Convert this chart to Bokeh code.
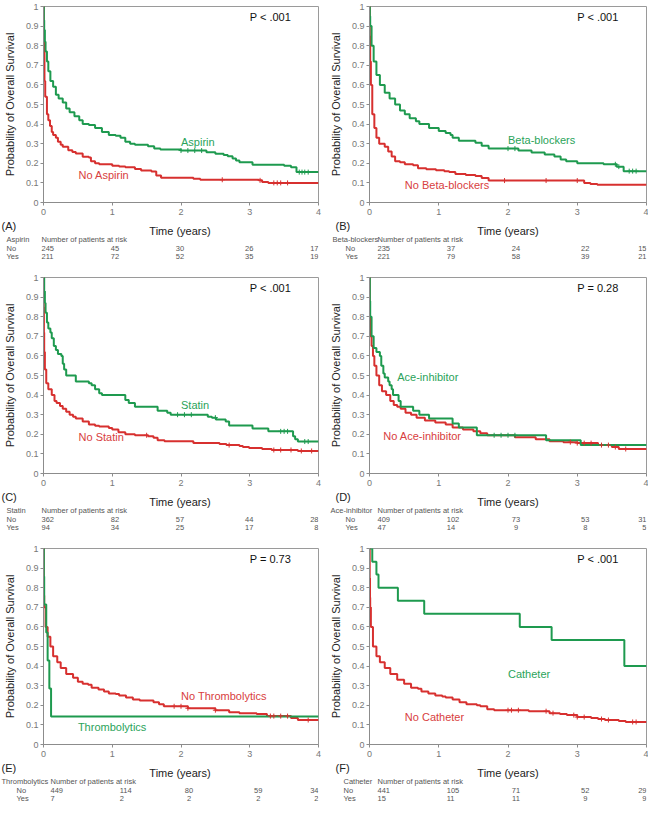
import numpy as np
from bokeh.plotting import figure
from bokeh.layouts import column, row
from bokeh.models import Range1d, FixedTicker, PrintfTickFormatter
from bokeh.core.properties import value
from bokeh.embed import file_html
from bokeh.resources import INLINE

# ---------------- data ----------------
YEARS = [0, 1, 2, 3, 4]
SURV_TICKS = [0, 0.1, 0.2, 0.3, 0.4, 0.5, 0.6, 0.7, 0.8, 0.9, 1.0]

# (A) Aspirin
A_yes_t = [0, 0.005, 0.01, 0.02, 0.03, 0.05, 0.07, 0.1, 0.14, 0.18, 0.22, 0.28, 0.33, 0.38, 0.45, 0.52, 0.57, 0.66, 0.75, 0.85,
           0.95, 1.05, 1.12, 1.19, 1.26, 1.33, 1.52, 1.61, 1.7, 2.0, 2.37, 2.5, 2.62, 2.68, 2.75, 2.8, 2.85, 3.04, 3.5, 3.6, 3.68, 4.0]
A_yes_s = [1, 0.93, 0.88, 0.82, 0.77, 0.72, 0.67, 0.62, 0.59, 0.55, 0.53, 0.51, 0.48, 0.46, 0.44, 0.42, 0.40, 0.395, 0.38, 0.36,
           0.345, 0.34, 0.33, 0.31, 0.30, 0.295, 0.287, 0.275, 0.27, 0.265, 0.257, 0.249, 0.242, 0.236, 0.224, 0.214, 0.205, 0.193, 0.187, 0.18, 0.155, 0.155]
A_no_t = [0, 0.003, 0.007, 0.014, 0.025, 0.05, 0.07, 0.095, 0.12, 0.14, 0.18, 0.21, 0.25, 0.28, 0.36, 0.42, 0.47, 0.57, 0.66, 0.69,
          0.75, 0.81, 1.0, 1.1, 1.19, 1.33, 1.42, 1.57, 1.64, 1.71, 2.18, 2.28, 3.13, 3.18, 3.27, 4.0]
A_no_s = [1, 0.9, 0.78, 0.62, 0.54, 0.45, 0.42, 0.39, 0.36, 0.345, 0.33, 0.31, 0.295, 0.285, 0.267, 0.258, 0.25, 0.234, 0.229, 0.21,
          0.2, 0.195, 0.187, 0.184, 0.18, 0.171, 0.163, 0.158, 0.138, 0.126, 0.121, 0.116, 0.113, 0.105, 0.10, 0.10]
A_yes_cens = [2.0, 2.1, 2.2, 2.3, 3.72, 3.76, 3.8, 3.85]
A_no_cens = [2.6, 3.15, 3.35, 3.4, 3.45, 3.55]
A_risk_no = [245, 45, 30, 26, 17]
A_risk_yes = [211, 72, 52, 35, 19]

# (B) Beta-blockers
B_yes_t = [0, 0.005, 0.01, 0.03, 0.06, 0.1, 0.15, 0.22, 0.29, 0.37, 0.44, 0.51, 0.58, 0.67, 0.72, 0.86, 1.0, 1.1, 1.17, 1.2,
           1.29, 1.53, 1.62, 1.72, 2.15, 2.34, 2.53, 2.67, 2.76, 2.84, 3.0, 3.38, 3.57, 3.67, 4.0]
B_yes_s = [1, 0.95, 0.9, 0.8, 0.72, 0.65, 0.6, 0.56, 0.53, 0.5, 0.47, 0.45, 0.43, 0.415, 0.40, 0.38, 0.365, 0.355, 0.345, 0.33,
           0.315, 0.305, 0.29, 0.275, 0.265, 0.255, 0.245, 0.235, 0.22, 0.21, 0.20, 0.195, 0.183, 0.16, 0.16]
B_no_t = [0, 0.004, 0.01, 0.02, 0.04, 0.07, 0.1, 0.14, 0.22, 0.27, 0.32, 0.37, 0.44, 0.51, 0.63, 0.7, 0.82, 0.96, 1.08, 1.15,
          1.24, 1.39, 1.53, 1.62, 1.72, 3.1, 3.19, 3.29, 4.0]
B_no_s = [1, 0.85, 0.72, 0.6, 0.45, 0.38, 0.33, 0.3, 0.285, 0.26, 0.235, 0.21, 0.205, 0.195, 0.19, 0.175, 0.17, 0.165, 0.16, 0.155,
          0.145, 0.14, 0.135, 0.125, 0.112, 0.1, 0.095, 0.09, 0.09]
B_yes_cens = [2.0, 2.1, 3.55, 3.6, 3.75, 3.8, 3.85]
B_no_cens = [1.95, 2.55, 3.0]
B_risk_no = [235, 37, 24, 22, 15]
B_risk_yes = [221, 79, 58, 39, 21]

# (C) Statin
C_yes_t = [0, 0.01, 0.02, 0.03, 0.05, 0.07, 0.1, 0.12, 0.15, 0.18, 0.21, 0.26, 0.28, 0.3, 0.33, 0.47, 0.66, 0.7, 0.75, 0.81,
           0.85, 1.19, 1.24, 1.33, 1.66, 1.8, 1.85, 2.39, 2.45, 2.51, 2.65, 2.7, 3.04, 3.27, 3.63, 3.66, 3.7, 4.0]
C_yes_s = [1, 0.93, 0.87, 0.82, 0.77, 0.74, 0.72, 0.69, 0.65, 0.63, 0.61, 0.6, 0.56, 0.53, 0.50, 0.47, 0.46, 0.45, 0.43, 0.41,
           0.40, 0.375, 0.36, 0.34, 0.32, 0.31, 0.30, 0.29, 0.285, 0.275, 0.265, 0.245, 0.23, 0.215, 0.19, 0.175, 0.163, 0.163]
C_no_t = [0, 0.003, 0.006, 0.01, 0.02, 0.04, 0.07, 0.12, 0.16, 0.19, 0.24, 0.28, 0.33, 0.38, 0.43, 0.47, 0.57, 0.66, 0.75, 0.81,
          0.95, 1.0, 1.09, 1.19, 1.33, 1.52, 1.6, 1.66, 1.76, 2.18, 2.56, 2.66, 2.85, 2.9, 2.99, 3.18, 3.32, 3.7, 4.0]
C_no_s = [1, 0.85, 0.72, 0.62, 0.53, 0.46, 0.43, 0.40, 0.37, 0.36, 0.345, 0.33, 0.315, 0.30, 0.29, 0.28, 0.265, 0.25, 0.243, 0.24,
          0.232, 0.225, 0.21, 0.20, 0.195, 0.19, 0.183, 0.17, 0.165, 0.155, 0.15, 0.145, 0.14, 0.135, 0.13, 0.125, 0.12, 0.115, 0.115]
C_yes_cens = [1.95, 2.05, 2.15, 2.5, 3.45, 3.5, 3.55, 3.8, 3.85]
C_no_cens = [1.5, 2.7, 3.35, 3.45, 3.6, 3.75, 3.9]
C_risk_no = [362, 82, 57, 44, 28]
C_risk_yes = [94, 34, 25, 17, 8]

# (D) Ace-inhibitor
D_yes_t = [0, 0.005, 0.01, 0.03, 0.06, 0.1, 0.15, 0.17, 0.2, 0.22, 0.27, 0.29, 0.32, 0.34, 0.42, 0.45, 0.63, 0.72, 0.86, 1.2,
           1.29, 1.55, 2.55, 3.05, 4.0]
D_yes_s = [1, 0.88, 0.8, 0.7, 0.64, 0.62, 0.6, 0.55, 0.51, 0.49, 0.47, 0.45, 0.43, 0.40, 0.37, 0.34, 0.32, 0.30, 0.28, 0.255,
           0.235, 0.195, 0.17, 0.145, 0.145]
D_no_t = [0, 0.003, 0.007, 0.01, 0.03, 0.05, 0.07, 0.1, 0.14, 0.18, 0.24, 0.3, 0.35, 0.4, 0.45, 0.52, 0.6, 0.68, 0.8, 0.95,
          1.1, 1.2, 1.35, 1.5, 1.6, 1.7, 2.1, 2.4, 2.6, 2.8, 3.0, 3.3, 3.5, 3.6, 4.0]
D_no_s = [1, 0.85, 0.75, 0.7, 0.65, 0.6, 0.55, 0.5, 0.45, 0.42, 0.4, 0.37, 0.35, 0.34, 0.33, 0.31, 0.30, 0.285, 0.27, 0.26,
          0.25, 0.235, 0.225, 0.215, 0.205, 0.195, 0.185, 0.175, 0.165, 0.16, 0.155, 0.145, 0.135, 0.125, 0.125]
D_yes_cens = [1.8, 1.9, 2.0, 2.1]
D_no_cens = [2.9, 3.0, 3.1, 3.2, 3.35, 3.45, 3.55, 3.7]
D_risk_no = [409, 102, 73, 53, 31]
D_risk_yes = [47, 14, 9, 8, 5]

# (E) Thrombolytics
E_yes_t = [0, 0.005, 0.01, 0.04, 0.06, 0.085, 0.11, 4.0]
E_yes_s = [1, 0.857, 0.714, 0.571, 0.429, 0.286, 0.143, 0.143]
E_no_t = [0, 0.003, 0.007, 0.01, 0.03, 0.06, 0.1, 0.14, 0.2, 0.25, 0.33, 0.43, 0.5, 0.57, 0.65, 0.7, 0.8, 0.88, 0.95, 1.05,
          1.1, 1.2, 1.3, 1.4, 1.6, 1.68, 1.75, 2.1, 2.5, 2.7, 2.85, 3.1, 3.25, 3.6, 3.7, 4.0]
E_no_s = [1, 0.85, 0.76, 0.7, 0.6, 0.55, 0.5, 0.45, 0.42, 0.39, 0.36, 0.34, 0.32, 0.31, 0.305, 0.29, 0.28, 0.27, 0.26, 0.258,
          0.25, 0.24, 0.23, 0.225, 0.215, 0.205, 0.195, 0.185, 0.175, 0.165, 0.16, 0.155, 0.145, 0.135, 0.125, 0.125]
E_yes_cens = []
E_no_cens = [1.9, 2.0, 2.1, 2.5, 3.3, 3.35, 3.45, 3.55, 3.85]
E_risk_no = [449, 114, 80, 59, 34]
E_risk_yes = [7, 2, 2, 2, 2]

# (F) Catheter
F_yes_t = [0, 0.04, 0.1, 0.13, 0.41, 0.79, 2.17, 2.63, 3.68, 4.0]
F_yes_s = [1, 0.933, 0.867, 0.8, 0.733, 0.667, 0.6, 0.533, 0.4, 0.4]
F_no_t = [0, 0.003, 0.007, 0.01, 0.02, 0.05, 0.1, 0.15, 0.22, 0.3, 0.4, 0.5, 0.6, 0.7, 0.75, 0.85, 0.95, 1.05, 1.1, 1.2,
          1.3, 1.4, 1.55, 1.6, 1.7, 1.8, 2.3, 2.6, 2.75, 2.85, 3.0, 3.2, 3.3, 3.4, 3.6, 3.7, 4.0]
F_no_s = [1, 0.85, 0.75, 0.7, 0.6, 0.5, 0.45, 0.42, 0.39, 0.36, 0.33, 0.31, 0.29, 0.285, 0.27, 0.26, 0.25, 0.245, 0.24, 0.23,
          0.215, 0.205, 0.2, 0.195, 0.18, 0.175, 0.17, 0.16, 0.155, 0.15, 0.14, 0.135, 0.13, 0.125, 0.12, 0.115, 0.115]
F_yes_cens = []
F_no_cens = [2.0, 2.05, 2.15, 2.55, 2.65, 2.95, 3.0, 3.1, 3.35, 3.45, 3.8, 3.85]
F_risk_no = [441, 105, 71, 52, 29]
F_risk_yes = [15, 11, 11, 9, 9]

# ---------------- styling ----------------
GREEN = "#1e9a4f"
RED = "#d7302f"
GREEN_TXT = "#2aa35a"
RED_TXT = "#d84040"
FONT = "Liberation Sans"
FRAME_W = 277

panels = [
    dict(tag="(A)", group="Aspirin", p="P < .001", yes_name="Aspirin", no_name="No Aspirin",
         yes_t=A_yes_t, yes_s=A_yes_s, no_t=A_no_t, no_s=A_no_s, yes_c=A_yes_cens, no_c=A_no_cens,
         rn=A_risk_no, ry=A_risk_yes, yes_pos=(2.0, 0.31), no_pos=(0.51, 0.14), grp_dx=-35, row_dx=-35, tab_dx=0),
    dict(tag="(B)", group="Beta-blockers", p="P < .001", yes_name="Beta-blockers", no_name="No Beta-blockers",
         yes_t=B_yes_t, yes_s=B_yes_s, no_t=B_no_t, no_s=B_no_s, yes_c=B_yes_cens, no_c=B_no_cens,
         rn=B_risk_no, ry=B_risk_yes, yes_pos=(2.0, 0.32), no_pos=(0.51, 0.088), grp_dx=-37, row_dx=-24, tab_dx=8),
    dict(tag="(C)", group="Statin", p="P < .001", yes_name="Statin", no_name="No Statin",
         yes_t=C_yes_t, yes_s=C_yes_s, no_t=C_no_t, no_s=C_no_s, yes_c=C_yes_cens, no_c=C_no_cens,
         rn=C_risk_no, ry=C_risk_yes, yes_pos=(2.0, 0.35), no_pos=(0.51, 0.185), grp_dx=-35, row_dx=-35, tab_dx=0),
    dict(tag="(D)", group="Ace-inhibitor", p="P = 0.28", yes_name="Ace-inhibitor", no_name="No Ace-inhibitor",
         yes_t=D_yes_t, yes_s=D_yes_s, no_t=D_no_t, no_s=D_no_s, yes_c=D_yes_cens, no_c=D_no_cens,
         rn=D_risk_no, ry=D_risk_yes, yes_pos=(0.40, 0.49), no_pos=(0.20, 0.19), grp_dx=-39, row_dx=-24, tab_dx=8),
    dict(tag="(E)", group="Thrombolytics", p="P = 0.73", yes_name="Thrombolytics", no_name="No Thrombolytics",
         yes_t=E_yes_t, yes_s=E_yes_s, no_t=E_no_t, no_s=E_no_s, yes_c=E_yes_cens, no_c=E_no_cens,
         rn=E_risk_no, ry=E_risk_yes, yes_pos=(0.5, 0.09), no_pos=(2.0, 0.245), grp_dx=-40, row_dx=-25, tab_dx=9),
    dict(tag="(F)", group="Catheter", p="P < .001", yes_name="Catheter", no_name="No Catheter",
         yes_t=F_yes_t, yes_s=F_yes_s, no_t=F_no_t, no_s=F_no_s, yes_c=F_yes_cens, no_c=F_no_cens,
         rn=F_risk_no, ry=F_risk_yes, yes_pos=(2.0, 0.36), no_pos=(0.51, 0.14), grp_dx=-26, row_dx=-26, tab_dx=8),
]


def step_at(ts, ss, cs):
    idx = np.searchsorted(np.asarray(ts), np.asarray(cs, dtype=float), side="right") - 1
    return [ss[i] for i in idx]


def make_main(cfg, L, R, top):
    p = figure(width=L + FRAME_W + R, height=top + 196 + 17,
               x_range=Range1d(0, 4), y_range=Range1d(0, 1),
               output_backend="svg", toolbar_location=None, frame_align=False,
               min_border_left=L, min_border_right=R, min_border_top=top, min_border_bottom=17)
    p.xgrid.grid_line_color = None
    p.ygrid.grid_line_color = None
    p.outline_line_color = "#9a9a9a"
    p.xaxis.ticker = FixedTicker(ticks=YEARS)
    p.yaxis.ticker = FixedTicker(ticks=SURV_TICKS)
    p.yaxis.formatter = PrintfTickFormatter(format="%g")
    for ax in (p.xaxis[0], p.yaxis[0]):
        ax.axis_line_color = "#8c8c8c"
        ax.major_tick_line_color = "#8c8c8c"
        ax.minor_tick_line_color = None
        ax.major_tick_out = 3
        ax.major_tick_in = 0
        ax.major_label_text_font = FONT
        ax.major_label_text_font_size = "9px"
        ax.major_label_text_color = "#777777"
        ax.axis_label_text_font = FONT
        ax.axis_label_text_font_size = "11px"
        ax.axis_label_text_font_style = "normal"
        ax.axis_label_text_color = "#222222"
    p.xaxis.major_label_standoff = 3
    p.yaxis.axis_label = "Probability of Overall Survival"
    p.yaxis.major_label_standoff = 2
    p.yaxis.axis_label_standoff = 7

    p.step(x=cfg["no_t"], y=cfg["no_s"], mode="after", line_color=RED, line_width=2)
    p.step(x=cfg["yes_t"], y=cfg["yes_s"], mode="after", line_color=GREEN, line_width=2)
    if cfg["no_c"]:
        p.scatter(x=cfg["no_c"], y=step_at(cfg["no_t"], cfg["no_s"], cfg["no_c"]), marker="cross",
                  size=5, line_color=RED, line_width=1)
    if cfg["yes_c"]:
        p.scatter(x=cfg["yes_c"], y=step_at(cfg["yes_t"], cfg["yes_s"], cfg["yes_c"]), marker="cross",
                  size=5, line_color=GREEN, line_width=1)

    txt = dict(text_font=value(FONT), text_font_size="11px", text_baseline="middle", text_align="left")
    p.text(x=[cfg["yes_pos"][0]], y=[cfg["yes_pos"][1]], text=[cfg["yes_name"]], text_color=GREEN_TXT, **txt)
    p.text(x=[cfg["no_pos"][0]], y=[cfg["no_pos"][1]], text=[cfg["no_name"]], text_color=RED_TXT, **txt)
    p.text(x=[3.0], y=[0.945], text=[cfg["p"]], text_color="#111111", **txt)
    return p


def make_table(cfg, L, R, tag_dx):
    # x range extended to the left so that time 0 lines up with the plot above
    H = 41
    t = figure(width=L + FRAME_W + R, height=H,
               x_range=Range1d(-4.0 * L / FRAME_W, 4), y_range=Range1d(-H, 0),
               output_backend="svg", toolbar_location=None, frame_align=False,
               x_axis_location=None, y_axis_location=None,
               min_border_left=0, min_border_right=R, min_border_top=0, min_border_bottom=0)
    t.xgrid.grid_line_color = None
    t.ygrid.grid_line_color = None
    t.outline_line_color = None

    big = dict(text_font=value(FONT), text_font_size="11px", text_color="#222222", text_baseline="middle")
    t.text(x=[0], y=[-6.5], text=[cfg["tag"]], x_offset=tag_dx, text_align="left", **big)
    t.text(x=[YEARS[2]], y=[-11.5], text=["Time (years)"], text_align="center", **big)

    tab = dict(text_font=value(FONT), text_font_size="7.5px", text_color="#555555", text_baseline="middle")
    t.text(x=[0], y=[-19.5], text=[cfg["group"]], x_offset=cfg["grp_dx"], text_align="left", **tab)
    t.text(x=[0, 0], y=[-28.5, -36.5], text=["No", "Yes"], x_offset=cfg["row_dx"], text_align="left", **tab)
    t.text(x=[YEARS[0]], y=[-19.5], text=["Number of patients at risk"], x_offset=cfg["tab_dx"],
           text_align="left", **tab)
    aligns = ["left", "left", "center", "center", "right"]
    for i, yr in enumerate(YEARS):
        dx = cfg["tab_dx"] if i < 4 else 0
        t.text(x=[yr, yr], y=[-28.5, -36.5], text=[str(cfg["rn"][i]), str(cfg["ry"][i])], x_offset=dx,
               text_align=aligns[i], **tab)
    return t


cells = []
for i, cfg in enumerate(panels):
    col, rw = i % 2, i // 2
    L = 41 if col == 0 else 47
    R = 4 if col == 0 else 2
    top = 6 if rw == 0 else 17
    cells.append(column(make_main(cfg, L, R, top), make_table(cfg, L, R, -40 if col == 0 else -34)))

layout = column(row(cells[0], cells[1]), row(cells[2], cells[3]), row(cells[4], cells[5]))

open("out.html", "w").write(file_html(layout, INLINE, "Survival"))
